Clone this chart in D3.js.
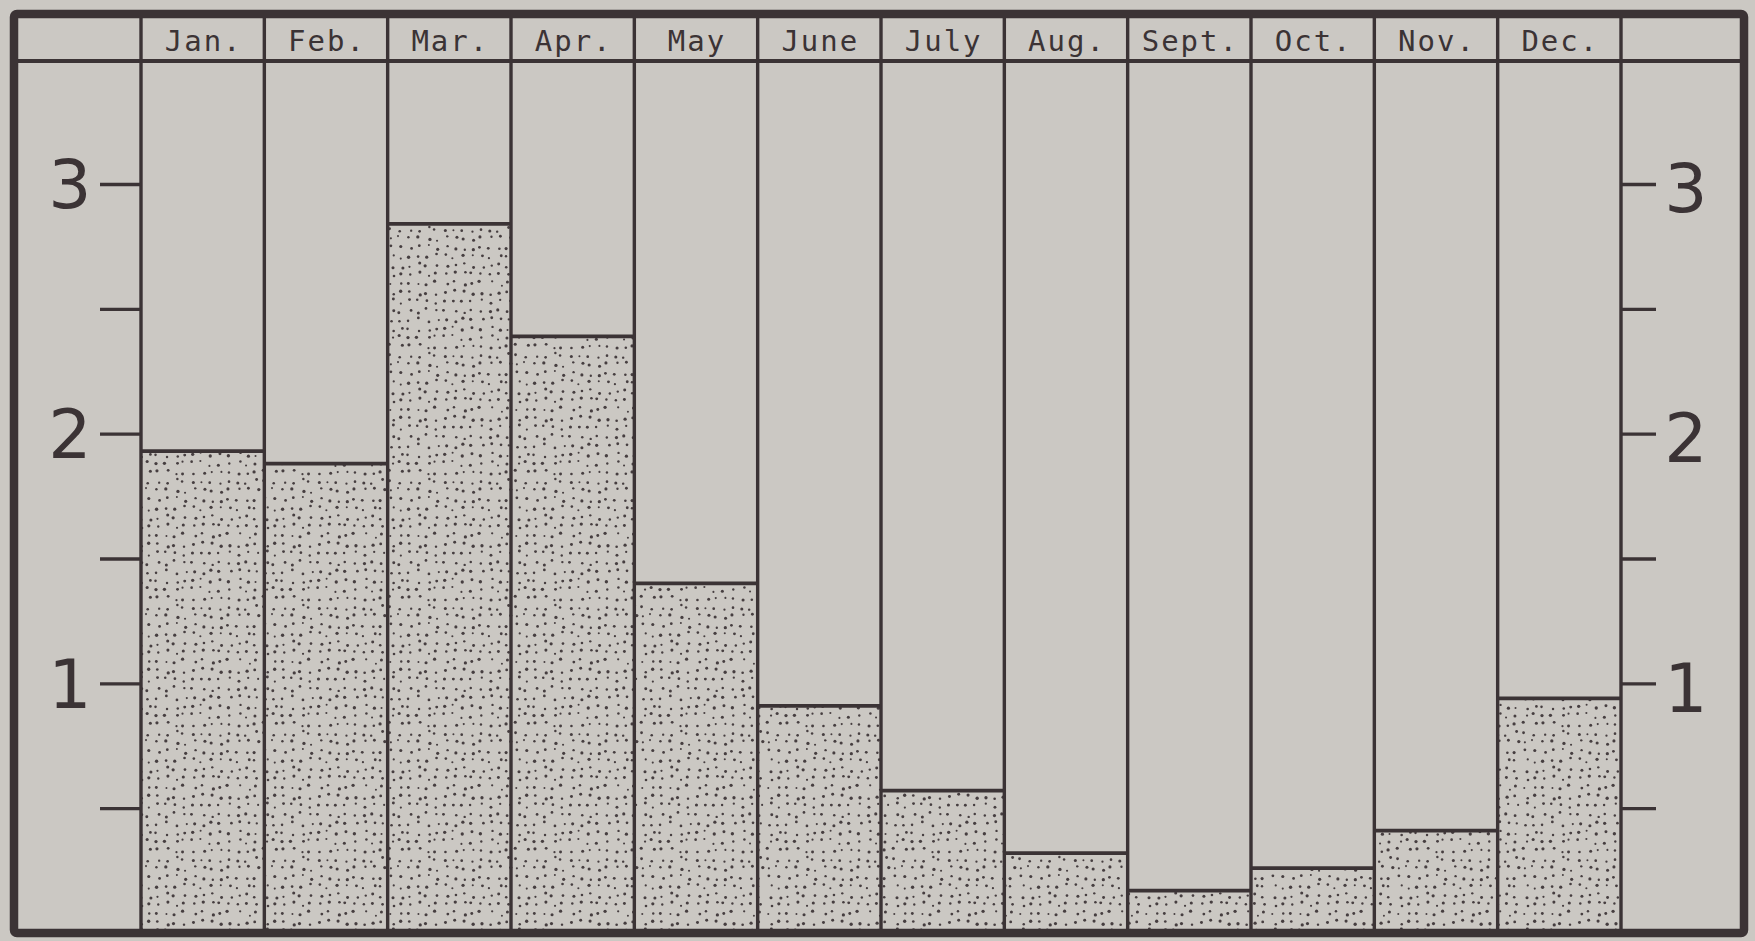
<!DOCTYPE html>
<html>
<head>
<meta charset="utf-8">
<script src="https://cdn.jsdelivr.net/npm/d3@7"></script>
<style>
  body { margin: 0; background: #cbc8c3; }
  svg { display: block; }
</style>
</head>
<body>
<div id="chart"></div>
<script>
const months = ["Jan.", "Feb.", "Mar.", "Apr.", "May", "June", "July", "Aug.", "Sept.", "Oct.", "Nov.", "Dec."];
const values = [1.93, 1.88, 2.84, 2.39, 1.40, 0.91, 0.57, 0.32, 0.17, 0.26, 0.41, 0.94];
const yTicks = [0.5, 1, 1.5, 2, 2.5, 3];
const yLabels = [1, 2, 3];

const W = 1755, H = 941;
const ink = "#3b3335";
const bg = "#cbc8c3";

const svg = d3.select("#chart").append("svg")
  .attr("width", W)
  .attr("height", H);

svg.append("rect").attr("width", W).attr("height", H).attr("fill", bg);

// stipple texture (jittered grid, fixed seed) -- just the shading, not data
let seed = 11;
function rnd() {
  seed = (seed * 16807) % 2147483647;
  return (seed - 1) / 2147483646;
}
const tile = 126, cell = 9;
const pat = svg.append("defs").append("pattern")
  .attr("id", "stipple")
  .attr("patternUnits", "userSpaceOnUse")
  .attr("width", tile)
  .attr("height", tile);
pat.append("rect").attr("width", tile).attr("height", tile).attr("fill", bg);
for (let i = 0; i < tile / cell; i++) {
  for (let j = 0; j < tile / cell; j++) {
    pat.append("circle")
      .attr("cx", i * cell + 2 + rnd() * 5)
      .attr("cy", j * cell + 2 + rnd() * 5)
      .attr("r", 1.0 + rnd() * 0.7)
      .attr("fill", "#463e40");
  }
}

const x = d3.scaleBand().domain(months).range([141, 1621]).padding(0);
const y = d3.scaleLinear().domain([0, 3]).range([933, 184]);

const frame = { left: 14, top: 14, right: 1744, bottom: 933 };
const headerY = 61;

// bars
svg.selectAll(".bar")
  .data(months)
  .enter()
  .append("rect")
  .attr("class", "bar")
  .attr("x", (d) => x(d))
  .attr("y", (d, i) => y(values[i]))
  .attr("width", x.bandwidth())
  .attr("height", (d, i) => y(0) - y(values[i]))
  .attr("fill", "url(#stipple)");

svg.selectAll(".bar-top")
  .data(months)
  .enter()
  .append("line")
  .attr("class", "bar-top")
  .attr("x1", (d) => x(d))
  .attr("x2", (d) => x(d) + x.bandwidth())
  .attr("y1", (d, i) => y(values[i]))
  .attr("y2", (d, i) => y(values[i]))
  .attr("stroke", ink)
  .attr("stroke-width", 3.8);

// column dividers, full height
const dividers = months.map((m) => x(m)).concat([x.range()[1]]);
svg.selectAll(".divider")
  .data(dividers)
  .enter()
  .append("line")
  .attr("class", "divider")
  .attr("x1", (d) => d)
  .attr("x2", (d) => d)
  .attr("y1", frame.top)
  .attr("y2", frame.bottom)
  .attr("stroke", ink)
  .attr("stroke-width", 3.4);

// header line
svg.append("line")
  .attr("x1", frame.left)
  .attr("x2", frame.right)
  .attr("y1", headerY)
  .attr("y2", headerY)
  .attr("stroke", ink)
  .attr("stroke-width", 3.8);

// month labels
svg.selectAll(".month")
  .data(months)
  .enter()
  .append("text")
  .attr("class", "month")
  .attr("x", (d) => x(d) + x.bandwidth() / 2 + 1)
  .attr("y", 51)
  .attr("text-anchor", "middle")
  .attr("font-family", "DejaVu Sans Mono, monospace")
  .attr("font-size", 29)
  .attr("letter-spacing", 2)
  .attr("fill", ink)
  .text((d) => d);

// left axis
const leftAxis = svg.append("g")
  .attr("transform", `translate(${x.range()[0]},0)`)
  .call(d3.axisLeft(y).tickValues(yTicks).tickSize(41).tickFormat(""));
const rightAxis = svg.append("g")
  .attr("transform", `translate(${x.range()[1]},0)`)
  .call(d3.axisRight(y).tickValues(yTicks).tickSize(35).tickFormat(""));
[leftAxis, rightAxis].forEach((g) => {
  g.select(".domain").remove();
  g.selectAll(".tick line").attr("stroke", ink).attr("stroke-width", 3.4);
});

svg.selectAll(".ylab-left")
  .data(yLabels)
  .enter()
  .append("text")
  .attr("class", "ylab-left")
  .attr("x", 70)
  .attr("y", (d) => y(d))
  .attr("dy", "0.36em")
  .attr("text-anchor", "middle")
  .attr("font-family", "DejaVu Sans, sans-serif")
  .attr("font-size", 68)
  .attr("fill", ink)
  .text((d) => d);

svg.selectAll(".ylab-right")
  .data(yLabels)
  .enter()
  .append("text")
  .attr("class", "ylab-right")
  .attr("x", 1686)
  .attr("y", (d) => y(d) + 4)
  .attr("dy", "0.36em")
  .attr("text-anchor", "middle")
  .attr("font-family", "DejaVu Sans, sans-serif")
  .attr("font-size", 68)
  .attr("fill", ink)
  .text((d) => d);

// outer frame
svg.append("rect")
  .attr("x", frame.left)
  .attr("y", frame.top)
  .attr("width", frame.right - frame.left)
  .attr("height", frame.bottom - frame.top)
  .attr("rx", 3)
  .attr("fill", "none")
  .attr("stroke", ink)
  .attr("stroke-width", 8.5);
</script>
</body>
</html>
